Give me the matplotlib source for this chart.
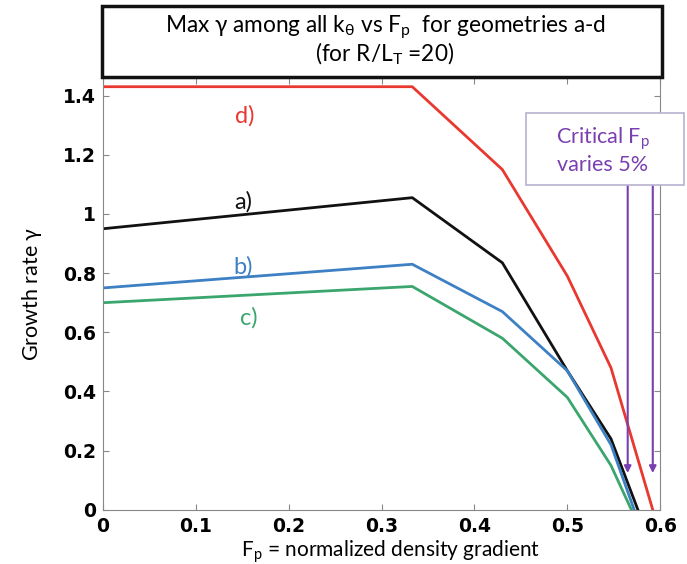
import numpy as np
import matplotlib.pyplot as plt
from matplotlib.patches import Rectangle

# F_p sample points and max growth rate for each geometry
fp = [0.0, 0.333, 0.43, 0.50, 0.547]
gamma_a = [0.95, 1.055, 0.835, 0.47, 0.24]
gamma_b = [0.75, 0.83, 0.67, 0.47, 0.22]
gamma_c = [0.70, 0.755, 0.58, 0.38, 0.15]
gamma_d = [1.43, 1.43, 1.15, 0.79, 0.48]
# where each curve reaches zero
fp_zero = {"a": 0.576, "b": 0.572, "c": 0.569, "d": 0.592}

crit_fp = [0.565, 0.592]
crit_tip = 0.115

xticks = [0, 0.1, 0.2, 0.3, 0.4, 0.5, 0.6]
xtick_labels = ["0", "0.1", "0.2", "0.3", "0.4", "0.5", "0.6"]
yticks = [0, 0.2, 0.4, 0.6, 0.8, 1.0, 1.2, 1.4]
ytick_labels = ["0", "0.2", "0.4", "0.6", "0.8", "1", "1.2", "1.4"]

series = [
    ("a", gamma_a, "#111111", "a)", 0.151, 1.04),
    ("b", gamma_b, "#3d80c3", "b)", 0.151, 0.82),
    ("c", gamma_c, "#3aa66e", "c)", 0.157, 0.65),
    ("d", gamma_d, "#e8382f", "d)", 0.153, 1.33),
]

FONT = "Lato"

fig = plt.figure(figsize=(6.87, 5.64), dpi=100)
ax = fig.add_axes([0.150, 0.096, 0.811, 0.766])

for key, vals, col, lab, lx, ly in series:
    ax.plot(fp + [fp_zero[key]], vals + [0.0], color=col, lw=2)
    ax.text(lx, ly, lab, color=col, fontsize=17, family=FONT,
            ha="center", va="center")

# critical F_p arrows
purple = "#7a3fb0"
for xc in crit_fp:
    ax.annotate("", xy=(xc, crit_tip), xytext=(xc, 1.105),
                arrowprops=dict(arrowstyle="-|>", color=purple, lw=1.5,
                                mutation_scale=10))

ax.set_xlim(0, 0.6)
ax.set_ylim(0, 1.46)
ax.set_xticks(xticks)
ax.set_xticklabels(xtick_labels, fontsize=13.5, fontweight="bold")
ax.set_yticks(yticks)
ax.set_yticklabels(ytick_labels, fontsize=13.5, fontweight="bold")
ax.tick_params(direction="in", top=True, right=True, length=4, color="#888888", pad=5)
for s in ax.spines.values():
    s.set_color("#888888")

ax.set_xlabel(r"F$_\mathregular{p}$ = normalized density gradient",
              fontsize=15, family=FONT, labelpad=0)
ax.xaxis.set_label_coords(0.517, -0.066)
ax.set_ylabel(r"Growth rate $\mathregular{\gamma}$", fontsize=15.5,
              family=FONT, labelpad=14)

# annotation box
fig.patches.append(Rectangle((526 / 687, 1 - 185 / 564), 158 / 687, 72 / 564,
                             transform=fig.transFigure, facecolor="white",
                             edgecolor="#b8b0d0", lw=1.2, zorder=5))
fig.text(603 / 687, 1 - 150 / 564, "Critical F$_\\mathregular{p}$\nvaries 5%",
         color=purple, fontsize=15.5, family=FONT, ha="center",
         va="center", linespacing=1.2, zorder=6)

# title box
fig.patches.append(Rectangle((102 / 687, 1 - 77 / 564), 560 / 687, 71 / 564,
                             transform=fig.transFigure, facecolor="white",
                             edgecolor="#111111", lw=2.5))
fig.text(385 / 687, 1 - 28 / 564,
         r"Max $\mathregular{\gamma}$ among all k$_\mathregular{\theta}$ vs F$_\mathregular{p}$  for geometries a-d",
         fontsize=16.3, family=FONT, ha="center", va="center")
fig.text(385 / 687, 1 - 54 / 564, r"(for R/L$_\mathregular{T}$ =20)",
         fontsize=16.3, family=FONT, ha="center", va="center")

fig.savefig("out.png", dpi=100)
